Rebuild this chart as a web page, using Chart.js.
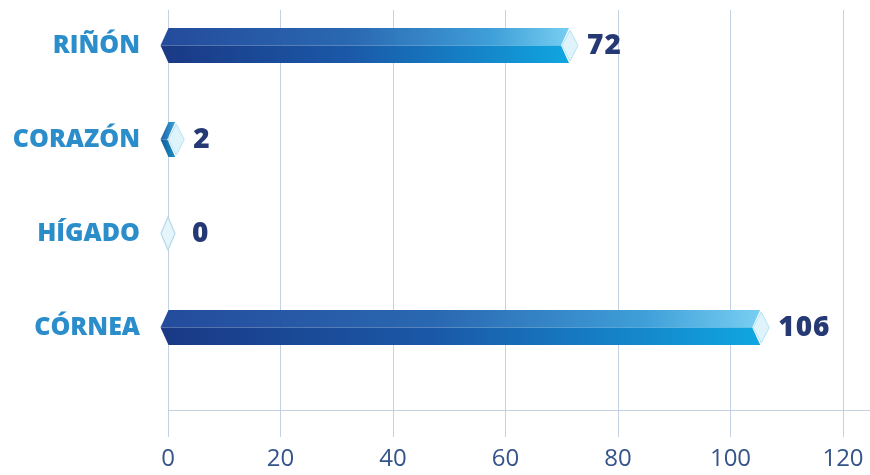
<!DOCTYPE html>
<html>
<head>
<meta charset="utf-8">
<script src="https://cdn.jsdelivr.net/npm/chart.js@4"></script>
<style>
  html, body { margin: 0; padding: 0; background: #ffffff; }
  #wrap { width: 870px; height: 475px; position: relative; }
</style>
</head>
<body>
<div id="wrap"><canvas id="c"></canvas></div>
<script>
const categories = ['RIÑÓN', 'CORAZÓN', 'HÍGADO', 'CÓRNEA'];
const values = [72, 2, 0, 106];
const xTicks = [0, 20, 40, 60, 80, 100, 120];

const GRID = '#c3d1e1';

const ribbonPlugin = {
  id: 'ribbon',
  afterDatasetsDraw(chart) {
    const ctx = chart.ctx;
    const meta = chart.getDatasetMeta(0);
    ctx.save();
    meta.data.forEach((bar, i) => {
      const x0 = bar.base, xe = bar.x, cy = bar.y, h = bar.height;
      const top = cy - h / 2, bot = cy + h / 2;
      const tip = 8;
      const short = (xe - x0) < 30;
      if (xe - x0 >= 6) {
        const gx1 = Math.max(xe, x0 + 1);
        const gTop = ctx.createLinearGradient(short ? x0 - tip : x0, 0, gx1, 0);
        const gBot = ctx.createLinearGradient(short ? x0 - tip : x0, 0, gx1, 0);
        if (short) {
          gTop.addColorStop(0, '#1f5fa6'); gTop.addColorStop(1, '#3fb7e4');
          gBot.addColorStop(0, '#155a98'); gBot.addColorStop(1, '#1aa0cf');
        } else {
          gTop.addColorStop(0, '#244c9c');
          gTop.addColorStop(0.45, '#2a68b2');
          gTop.addColorStop(0.8, '#3f9fd8');
          gTop.addColorStop(1, '#7ad0f2');
          gBot.addColorStop(0, '#1a3a86');
          gBot.addColorStop(0.45, '#1a59a8');
          gBot.addColorStop(0.8, '#1489cc');
          gBot.addColorStop(1, '#10a8e2');
        }
        const xr = xe - 4;
        ctx.beginPath();
        ctx.moveTo(x0 - tip, cy);
        ctx.lineTo(x0, top);
        ctx.lineTo(xr, top);
        ctx.lineTo(xr - tip, cy);
        ctx.closePath();
        ctx.fillStyle = gTop;
        ctx.fill();
        ctx.beginPath();
        ctx.moveTo(x0 - tip, cy);
        ctx.lineTo(xr - tip, cy);
        ctx.lineTo(xr, bot);
        ctx.lineTo(x0, bot);
        ctx.closePath();
        ctx.fillStyle = gBot;
        ctx.fill();
        ctx.beginPath();
        ctx.moveTo(xr - tip + 1, cy);
        ctx.lineTo(xr + 1, top + 2);
        ctx.lineTo(xr + tip + 1, cy);
        ctx.lineTo(xr + 1, bot - 2);
        ctx.closePath();
        ctx.fillStyle = '#dff3fb';
        ctx.fill();
        ctx.strokeStyle = '#b5e2f4';
        ctx.lineWidth = 1;
        ctx.stroke();
      } else {
        ctx.beginPath();
        ctx.moveTo(x0 - 7, cy);
        ctx.lineTo(x0, top + 1);
        ctx.lineTo(x0 + 7, cy);
        ctx.lineTo(x0, bot - 1);
        ctx.closePath();
        ctx.fillStyle = '#e6f5fb';
        ctx.fill();
        ctx.strokeStyle = '#b4d8e8';
        ctx.lineWidth = 1.2;
        ctx.stroke();
      }
      ctx.font = '800 28px "Open Sans", sans-serif';
      ctx.fillStyle = '#253a74';
      ctx.textAlign = 'left';
      ctx.textBaseline = 'middle';
      try { ctx.letterSpacing = '1px'; } catch (e) {}
      const lx = Math.max(xe, x0 + 10) + 14;
      ctx.fillText(String(values[i]), lx, cy + 1);
      try { ctx.letterSpacing = '0px'; } catch (e) {}
    });
    ctx.restore();
  },
  afterDraw(chart) {
    const ctx = chart.ctx;
    const y = Math.round(chart.chartArea.bottom) + 0.5;
    ctx.save();
    ctx.strokeStyle = GRID;
    ctx.lineWidth = 1;
    ctx.beginPath();
    ctx.moveTo(chart.chartArea.right, y);
    ctx.lineTo(chart.width, y);
    ctx.stroke();
    ctx.restore();
  }
};

new Chart(document.getElementById('c'), {
  type: 'bar',
  data: {
    datasets: [{
      data: values.map((v, i) => ({ x: v, y: i })),
      backgroundColor: 'rgba(0,0,0,0)',
      borderWidth: 0,
      barThickness: 35
    }]
  },
  options: {
    indexAxis: 'y',
    responsive: true,
    maintainAspectRatio: false,
    animation: false,
    layout: { padding: { top: 10, right: 27, left: 0, bottom: 0 } },
    plugins: { legend: { display: false }, tooltip: { enabled: false } },
    scales: {
      x: {
        type: 'linear',
        position: 'bottom',
        min: 0,
        max: 120,
        afterBuildTicks(scale) { scale.ticks = xTicks.map(v => ({ value: v })); },
        afterFit(scale) { scale.height = 65; scale.paddingLeft = 0; scale.paddingRight = 0; },
        grid: { color: GRID, lineWidth: 1, drawTicks: true, tickLength: 27 },
        border: { display: true, color: GRID },
        ticks: {
          padding: 8,
          color: '#35548a',
          font: { family: '"Open Sans", sans-serif', size: 24, weight: '400' }
        }
      },
      y: {
        type: 'linear',
        position: 'left',
        reverse: true,
        offset: false,
        min: -0.378,
        max: 3.878,
        afterBuildTicks(scale) { scale.ticks = categories.map((c, i) => ({ value: i })); },
        afterFit(scale) { scale.width = 168; scale.paddingTop = 0; scale.paddingBottom = 0; },
        grid: { display: false, drawTicks: false, offset: false },
        border: { display: false },
        ticks: {
          padding: 28,
          color: '#2b8ecb',
          font: { family: '"Open Sans", sans-serif', size: 25, weight: '800' },
          callback: (v) => categories[v] !== undefined ? categories[v] : ''
        }
      }
    }
  },
  plugins: [ribbonPlugin]
});
</script>
</body>
</html>
